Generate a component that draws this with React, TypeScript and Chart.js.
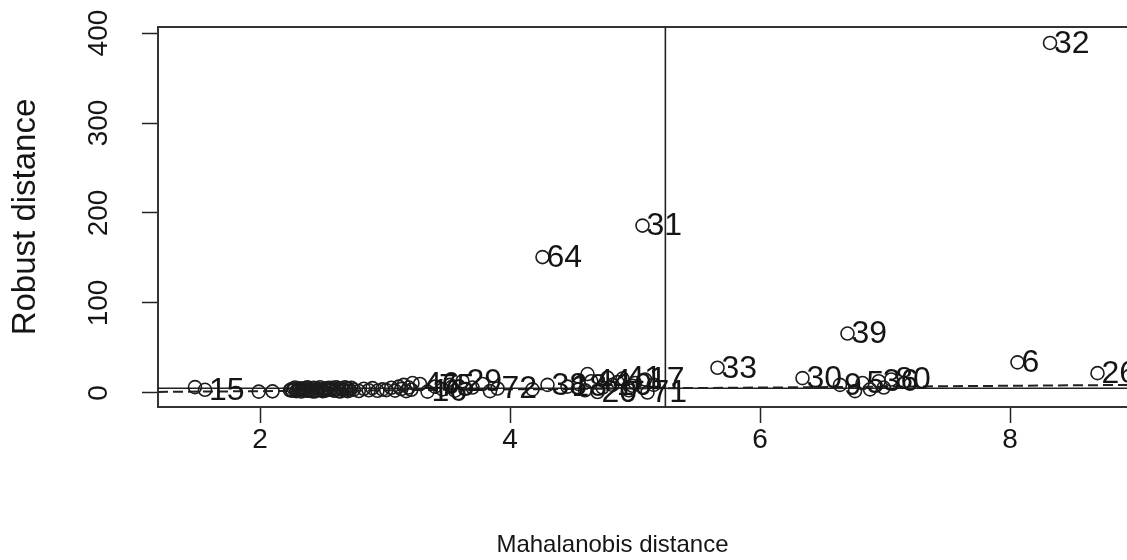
import React, { useEffect, useRef } from 'react';
import { Chart, registerables } from 'chart.js';

Chart.register(...registerables);

// ---- data ----
const mahalanobisDist = [
  1.48, 1.56, 1.99, 2.10,
  2.24, 2.27, 2.29, 2.31, 2.34, 2.36, 2.39, 2.41, 2.44, 2.46, 2.49, 2.51, 2.54, 2.56, 2.59, 2.62, 2.64, 2.67,
  2.69, 2.72, 2.75, 2.79, 2.83, 2.87, 2.90, 2.94, 2.98, 3.01, 3.05, 3.08, 3.11, 3.13, 3.15, 3.17, 3.19, 3.21,
  2.25, 2.26, 2.28, 2.30, 2.32, 2.33, 2.35, 2.37, 2.38, 2.40, 2.42, 2.43, 2.45, 2.47, 2.48, 2.50, 2.52, 2.53, 2.55,
  2.58, 2.60, 2.61, 2.63, 2.65, 2.66, 2.68, 2.70, 2.71, 2.73,
  3.22, 3.28, 3.34, 3.40, 3.46, 3.52, 3.56, 3.62, 3.70, 3.78, 3.84, 3.90,
  4.18, 4.30, 4.46, 4.55, 4.60, 4.62, 4.65, 4.70, 4.74, 4.78, 4.82, 4.86, 4.90, 4.95, 4.98, 5.00, 5.08, 5.10, 5.15,
  4.26, 5.06,
  5.66, 6.34, 6.64, 6.70, 6.76, 6.82, 6.88, 6.95, 6.99, 7.05,
  8.06, 8.32, 8.70,
];

const robustDist = [
  6.5, 3.5, 1.5, 1.8,
  3.0, 5.0, 2.0, 4.2, 3.0, 5.5, 2.4, 3.8, 1.8, 4.8, 3.2, 2.2, 5.0, 3.6, 2.6, 4.4, 1.6, 3.4,
  5.2, 2.8, 3.8, 2.2, 4.6, 3.0, 5.4, 2.4, 4.0, 3.2, 5.8, 2.6, 7.0, 4.4, 9.0, 2.0, 6.0, 3.6,
  4.0, 2.4, 6.0, 3.0, 5.2, 1.6, 4.6, 2.6, 6.2, 3.4, 1.8, 5.6, 2.8, 4.2, 6.4, 2.0, 4.8, 3.0, 5.8,
  5.6, 3.0, 6.2, 2.2, 5.0, 3.8, 6.4, 2.0, 4.6, 5.8,
  11, 10, 1.5, 7, 4, 9, 2.5, 13, 6, 10, 2, 5,
  4, 9, 7, 10, 3, 21, 13, 1, 6, 17, 9, 12, 16, 3, 8, 11, 15, 0.5, 9,
  151, 186,
  28, 16.5, 9, 66, 2, 11, 4, 13, 6, 15,
  34, 389, 22,
];

const obsLabels = [
  '', '15', '', '',
  '', '', '', '', '', '', '', '', '', '', '', '', '', '', '', '', '', '',
  '', '', '', '', '', '', '', '', '', '', '', '', '', '', '', '', '', '',
  '', '', '', '', '', '', '', '', '', '', '', '', '', '', '', '', '', '', '',
  '', '', '', '', '', '', '', '', '', '',
  '', '46', '16', '75', '', '', '', '29', '', '', '', '72',
  '', '38', '18', '', '', '', '44', '20', '', '', '10', '', '41', '', '', '', '17', '71', '',
  '64', '31',
  '33', '30', '9', '39', '', '5', '', '36', '', '80',
  '6', '32', '26',
];

const xTickValues = [2, 4, 6, 8];
const yTickValues = [0, 100, 200, 300, 400];
const cutoff = 5.243; // sqrt(qchisq(0.975, 15))
const xLimits = [1.184, 8.936];
const yLimits = [-15.6, 406.7];
const xTitle = 'Mahalanobis distance';
const yTitle = 'Robust distance';

const FONT = '"Liberation Sans", Arial, Helvetica, sans-serif';
const INK = '#151515';

const pointLabelPlugin = {
  id: 'pointLabelPlugin',
  afterDatasetsDraw(chart: any) {
    const { ctx } = chart;
    const xs = chart.scales.x;
    const ys = chart.scales.y;
    ctx.save();
    ctx.font = `32px ${FONT}`;
    ctx.fillStyle = INK;
    ctx.textAlign = 'left';
    ctx.textBaseline = 'middle';
    obsLabels.forEach((t, i) => {
      if (!t) return;
      const px = xs.getPixelForValue(mahalanobisDist[i]);
      const py = ys.getPixelForValue(robustDist[i]);
      ctx.fillText(t, px + 4, py + 1);
    });
    ctx.restore();
  },
};

const boxPlugin = {
  id: 'boxPlugin',
  beforeDatasetsDraw(chart: any) {
    const { ctx, chartArea } = chart;
    const { left, top, right, bottom } = chartArea;
    ctx.save();
    ctx.strokeStyle = '#333';
    ctx.lineWidth = 2;
    ctx.beginPath();
    ctx.moveTo(right + 10, top);
    ctx.lineTo(left, top);
    ctx.lineTo(left, bottom);
    ctx.lineTo(right + 10, bottom);
    ctx.stroke();
    ctx.restore();
  },
};

export default function App() {
  const canvasRef = useRef<HTMLCanvasElement | null>(null);

  useEffect(() => {
    if (!canvasRef.current) return;
    Chart.defaults.font.family = FONT;
    const points = mahalanobisDist.map((x, i) => ({ x, y: robustDist[i] }));

    const chart = new Chart(canvasRef.current, {
      type: 'scatter',
      data: {
        datasets: [
          {
            data: points,
            pointStyle: 'circle',
            pointRadius: 6.5,
            pointBorderWidth: 1.6,
            pointBorderColor: '#1c1c1c',
            pointBackgroundColor: 'rgba(0,0,0,0)',
            showLine: false,
          },
          {
            data: [{ x: cutoff, y: yLimits[0] }, { x: cutoff, y: yLimits[1] }],
            showLine: true,
            borderColor: '#222',
            borderWidth: 1.6,
            pointRadius: 0,
          },
          {
            data: [{ x: xLimits[0], y: cutoff }, { x: xLimits[1], y: cutoff }],
            showLine: true,
            borderColor: '#222',
            borderWidth: 1.6,
            pointRadius: 0,
          },
          {
            data: [{ x: xLimits[0], y: xLimits[0] }, { x: xLimits[1], y: xLimits[1] }],
            showLine: true,
            borderColor: '#222',
            borderWidth: 2,
            borderDash: [10, 5],
            pointRadius: 0,
          },
        ],
      },
      options: {
        animation: false,
        responsive: false,
        events: [],
        layout: { autoPadding: false, padding: { top: 27, left: 0, right: 0, bottom: 0 } },
        plugins: {
          legend: { display: false },
          tooltip: { enabled: false },
        },
        scales: {
          x: {
            type: 'linear',
            min: xLimits[0],
            max: xLimits[1],
            bounds: 'data',
            afterBuildTicks: (s: any) => {
              s.ticks = xTickValues.map((v) => ({ value: v }));
            },
            afterFit: (s: any) => {
              s.height = 153;
              s.paddingLeft = 0;
              s.paddingRight = 0;
            },
            grid: {
              display: true,
              drawOnChartArea: false,
              drawTicks: true,
              tickLength: 16,
              tickColor: '#222',
              tickWidth: 1.5,
            },
            border: { display: false },
            ticks: {
              font: { size: 28, family: FONT, lineHeight: 1.2 },
              color: INK,
              padding: 0,
              maxRotation: 0,
              minRotation: 0,
              autoSkip: false,
              callback: (v: any) => String(v),
            },
            title: {
              display: true,
              // trailing spaces shift the centred title left, as in the reference
              text: xTitle + '         ',
              font: { size: 24, family: FONT, lineHeight: 1 },
              color: INK,
              padding: { top: 0, bottom: 3 },
            },
          },
          y: {
            type: 'linear',
            min: yLimits[0],
            max: yLimits[1],
            bounds: 'data',
            afterBuildTicks: (s: any) => {
              s.ticks = yTickValues.map((v) => ({ value: v }));
            },
            afterFit: (s: any) => {
              s.width = 158;
              s.paddingTop = 0;
              s.paddingBottom = 0;
            },
            grid: {
              display: true,
              drawOnChartArea: false,
              drawTicks: true,
              tickLength: 16,
              tickColor: '#222',
              tickWidth: 1.5,
            },
            border: { display: false },
            ticks: {
              font: { size: 28, family: FONT },
              color: INK,
              padding: 19,
              minRotation: 90,
              maxRotation: 90,
              crossAlign: 'center',
              autoSkip: false,
              callback: (v: any) => String(v),
            },
            title: {
              display: true,
              text: yTitle,
              font: { size: 33, family: FONT },
              color: INK,
              padding: { top: 6, bottom: 0 },
            },
          },
        },
      },
      plugins: [boxPlugin, pointLabelPlugin],
    } as any);

    return () => chart.destroy();
  }, []);

  return (
    <div style={{ position: 'absolute', left: 0, top: 0, width: 1127, height: 560, background: '#fff' }}>
      <canvas ref={canvasRef} width={1127} height={560} style={{ display: 'block' }} />
    </div>
  );
}
